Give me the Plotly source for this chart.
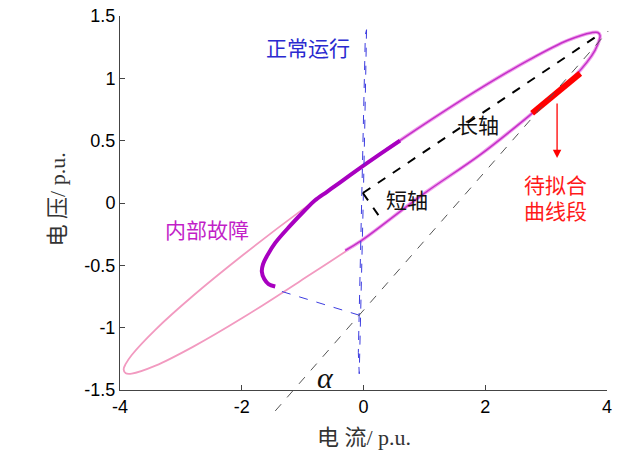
import plotly.graph_objects as go

# ---------------- data ----------------
x_range = [-4, 4]
y_range = [-1.5, 1.5]
x_tickvals = [-4, -2, 0, 2, 4]
x_ticktext = ["-4", "-2", "0", "2", "4"]
y_tickvals = [-1.5, -1, -0.5, 0, 0.5, 1, 1.5]
y_ticktext = ["-1.5", "-1", "-0.5", "0", "0.5", "1", "1.5"]

# internal-fault trajectory (full loop, light pink)
fault_x = [-0.030, -1.043, -1.985, -2.795, -3.416, -3.807, -3.906, -3.940, -3.906, -3.807,
           -3.416, -2.795, -1.985, -1.043, -0.030, 0.983, 1.925, 2.735, 3.356, 3.747,
           3.846, 3.885, 3.846, 3.747, 3.356, 2.735, 1.925, 0.983, -0.030]
fault_y = [0.290, -0.067, -0.419, -0.742, -1.015, -1.219, -1.291, -1.335, -1.366, -1.369,
           -1.305, -1.152, -0.921, -0.627, -0.300, 0.072, 0.390, 0.705, 0.960, 1.180,
           1.270, 1.345, 1.368, 1.366, 1.305, 1.152, 0.921, 0.627, 0.290]

# right-hand part of the loop (magenta)
right_x = [-0.30, -0.030, 0.983, 1.925, 2.735, 3.356, 3.747, 3.846, 3.885, 3.846,
           3.747, 3.356, 2.735, 1.925, 0.983, 0.379]
right_y = [-0.381, -0.300, 0.072, 0.390, 0.705, 0.960, 1.180, 1.270, 1.345, 1.368,
           1.366, 1.305, 1.152, 0.921, 0.627, 0.428]

# transient part (thick purple)
trans_x = [0.60, 0.20, -0.03, -0.40, -0.60, -0.80, -0.96, -1.20, -1.45, -1.58, -1.65, -1.67, -1.63, -1.56, -1.45]
trans_y = [0.50, 0.368, 0.29, 0.16, 0.09, 0.02, -0.056, -0.18, -0.32, -0.42, -0.49, -0.55, -0.61, -0.65, -0.67]

# curve segment to be fitted (red)
fit_x = [2.77, 3.17, 3.56]
fit_y = [0.72, 0.88, 1.04]

# normal-operation trajectory (blue, narrow loop)
normal_x = [0.05, 0.04, 0.02, -0.005, -0.03, -0.055, -0.07, -0.085, -0.06, -0.035, -0.01, 0.015, 0.03, 0.05]
normal_y = [1.39, 1.20, 0.60, 0.00, -0.60, -1.20, -1.37, -1.20, -0.60, 0.00, 0.60, 1.20, 1.35, 1.39]

# blue dashed connector
conn_x = [-1.34, -0.07]
conn_y = [-0.71, -0.90]

# long and short axes (black dashed)
long_x = [-0.01, 3.87]
long_y = [0.08, 1.35]
short_x = [-0.01, 0.30]
short_y = [0.08, -0.136]

# thin grey dashed reference line (extends below the axis)
ref_x = [-1.45, 4.02]
ref_y = [-1.668, 1.379]

# red arrow
arrow_x = 3.18
arrow_tail_y = 0.81
arrow_head_y = 0.36

# text labels
labels = [
    ("正常运行", -0.91, 1.235, "#2a2ad0"),
    ("长轴", 1.88, 0.62, "#111111"),
    ("短轴", 0.71, 0.016, "#111111"),
    ("内部故障", -2.57, -0.225, "#c21fc8"),
    ("待拟合", 3.16, 0.136, "#ff1a1a"),
    ("曲线段", 3.16, -0.07, "#ff1a1a"),
]

CJK = "Liberation Serif, Noto Sans CJK SC, serif"

fig = go.Figure()

fig.add_trace(go.Scatter(x=fault_x, y=fault_y, mode="lines",
                         line=dict(color="#f29ac0", width=1.8, shape="spline", smoothing=1.0),
                         hoverinfo="skip", showlegend=False))
fig.add_trace(go.Scatter(x=right_x, y=right_y, mode="lines",
                         line=dict(color="#f0a0ec", width=3.6, shape="spline", smoothing=1.0),
                         hoverinfo="skip", showlegend=False))
fig.add_trace(go.Scatter(x=right_x, y=right_y, mode="lines",
                         line=dict(color="#c430c8", width=1.5, shape="spline", smoothing=1.0),
                         hoverinfo="skip", showlegend=False))
fig.add_trace(go.Scatter(x=trans_x, y=trans_y, mode="lines",
                         line=dict(color="#a800c0", width=4, shape="spline", smoothing=1.0),
                         hoverinfo="skip", showlegend=False))
fig.add_trace(go.Scatter(x=fit_x, y=fit_y, mode="lines",
                         line=dict(color="#ff0000", width=6),
                         hoverinfo="skip", showlegend=False))
fig.add_trace(go.Scatter(x=normal_x, y=normal_y, mode="lines",
                         line=dict(color="#3c3ce0", width=1.0, dash="dash"),
                         hoverinfo="skip", showlegend=False))
fig.add_trace(go.Scatter(x=conn_x, y=conn_y, mode="lines",
                         line=dict(color="#3c3ce0", width=1.0, dash="dash"),
                         hoverinfo="skip", showlegend=False))
fig.add_trace(go.Scatter(x=long_x, y=long_y, mode="lines",
                         line=dict(color="#000000", width=2, dash="dash"),
                         hoverinfo="skip", showlegend=False))
fig.add_trace(go.Scatter(x=short_x, y=short_y, mode="lines",
                         line=dict(color="#000000", width=2, dash="dash"),
                         hoverinfo="skip", showlegend=False))

# grey reference line drawn in paper coordinates so it may leave the plot area
def px(v):
    return (v - x_range[0]) / (x_range[1] - x_range[0])

def py(v):
    return (v - y_range[0]) / (y_range[1] - y_range[0])

fig.add_shape(type="line", xref="paper", yref="paper",
              x0=px(ref_x[0]), y0=py(ref_y[0]), x1=px(ref_x[1]), y1=py(ref_y[1]),
              line=dict(color="#555555", width=1, dash="dash"))

fig.add_annotation(x=arrow_x, y=arrow_head_y, ax=arrow_x, ay=arrow_tail_y,
                   xref="x", yref="y", axref="x", ayref="y", text="",
                   showarrow=True, arrowhead=2, arrowsize=1.3, arrowwidth=1.3,
                   arrowcolor="#ff0000")

for txt, lx, ly, col in labels:
    fig.add_annotation(x=lx, y=ly, xref="x", yref="y", text=txt, showarrow=False,
                       font=dict(family=CJK, size=21, color=col))

fig.add_annotation(x=-0.63, y=-1.40, xref="x", yref="y", text="<i>α</i>", showarrow=False,
                   font=dict(family="Liberation Serif, DejaVu Serif, serif", size=30, color="#111111"))

# axis titles
fig.add_annotation(x=0.5, y=-0.128, xref="paper", yref="paper", text="电 流/ p.u.",
                   showarrow=False, xanchor="center", yanchor="middle",
                   font=dict(family=CJK, size=22, color="#333333"))
fig.add_annotation(x=-0.129, y=0.51, xref="paper", yref="paper", text="电 压/ p.u.",
                   showarrow=False, xanchor="center", yanchor="middle", textangle=-90,
                   font=dict(family=CJK, size=22, color="#333333"))

axis_common = dict(showgrid=False, zeroline=False, showline=True, linecolor="#444444",
                   linewidth=1, ticks="inside", ticklen=5, tickcolor="#444444",
                   tickfont=dict(family="Liberation Sans, Arial, sans-serif", size=18, color="#000000"),
                   mirror=False, fixedrange=True, automargin=False)

fig.update_xaxes(range=x_range, tickmode="array", tickvals=x_tickvals, ticktext=x_ticktext,
                 **axis_common)
fig.update_yaxes(range=y_range, tickmode="array", tickvals=y_tickvals, ticktext=y_ticktext,
                 **axis_common)

fig.update_layout(width=640, height=455, margin=dict(l=120, r=33, t=16, b=65),
                  paper_bgcolor="white", plot_bgcolor="white", showlegend=False)

fig.write_html("out.html")
